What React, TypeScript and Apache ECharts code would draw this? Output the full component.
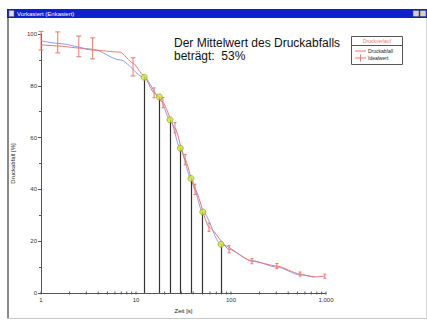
import React, { useEffect, useRef } from "react";
import * as echarts from "echarts";

const IDEAL_T = [1, 1.5, 3.5, 6.8, 12.2, 17.6, 22.8, 29.3, 37.9, 50.4, 78.5, 166, 304, 533, 760];
const IDEAL_V = [97.4, 96.4, 94.1, 90, 83.3, 75.7, 66.9, 55.9, 44.2, 31.3, 18.8, 12.5, 10, 7, 6.2];

const MEAS_T = [1, 1.5, 2.5, 3.5, 6.8, 9.3, 12, 15.5, 19.2, 25.7, 32.9, 41.8, 58.7, 95.5, 166, 304, 533, 730, 972];
const MEAS_V = [95.8, 95.4, 94.6, 93.8, 93, 88.8, 84, 77.3, 73.5, 63.8, 51.5, 40, 25.4, 16.9, 12.3, 10.4, 7.3, 6.2, 6.5];

const ERR_T = [1, 1.5, 2.5, 3.5, 9.3, 15.5, 19.2, 25.7, 32.9, 41.8, 58.7, 95.5, 166, 304, 533, 972];
const ERR_LO = [93.8, 92.7, 91.2, 90.4, 83.8, 75.4, 71.5, 61.8, 49.5, 38, 23.8, 15.5, 11.3, 9.4, 6.5, 5.7];
const ERR_HI = [101, 100.8, 99.2, 98.5, 90.8, 79.2, 75.5, 65.8, 53.5, 42, 27, 18.3, 13.3, 11.4, 8.1, 7.3];

const STEP_T = [12.2, 17.6, 22.8, 29.3, 37.9, 50.4, 78.5];
const STEP_V = [83.3, 75.7, 66.9, 55.9, 44.2, 31.3, 18.8];

const MINOR_X = [2, 3, 4, 5, 6, 7, 8, 9, 20, 30, 40, 50, 60, 70, 80, 90, 200, 300, 400, 500, 600, 700, 800, 900];
const MAJOR_X = [1, 10, 100, 1000];

const TITLE_TEXT = "Der Mittelwert des Druckabfalls\nbeträgt:  53%";
const LEGEND_TITLE = "Druckverlauf";
const LEGEND_ITEMS = ["Druckabfall", "Idealwert"];
const WINDOW_TITLE = "Vorkasiert (Enkasiert)";

const RED = "#e8786e";
const BLUE = "#8e9ef0";
const FONT = "Liberation Sans";

export default function App() {
  const ref = useRef<HTMLDivElement>(null);
  useEffect(() => {
    if (!ref.current) return;
    const chart = echarts.init(ref.current, null, { renderer: "svg" });
    const errData = ERR_T.map((t, i) => [t, ERR_LO[i], ERR_HI[i]]);
    const option: any = {
      animation: false,
      backgroundColor: "#ffffff",
      textStyle: { fontFamily: FONT },
      grid: { left: 41, top: 34, right: 101, bottom: 27, containLabel: false },
      xAxis: {
        type: "log",
        min: 1,
        max: 1000,
        logBase: 10,
        name: "Zeit [s]",
        nameLocation: "middle",
        nameGap: 13,
        nameTextStyle: { fontSize: 6, color: "#222", fontFamily: FONT },
        axisLine: { lineStyle: { color: "#555", width: 1 } },
        axisTick: { show: false },
        axisLabel: { fontSize: 6, color: "#333", margin: 4, fontFamily: FONT },
        splitLine: { show: false },
        minorTick: { show: false },
      },
      yAxis: {
        type: "value",
        min: 0,
        max: 100,
        interval: 20,
        name: "Druckabfall [%]",
        nameLocation: "middle",
        nameGap: 20,
        nameTextStyle: { fontSize: 6, color: "#222", fontFamily: FONT },
        axisLine: { show: true, lineStyle: { color: "#555", width: 1 } },
        axisTick: { show: true, length: 3, lineStyle: { color: "#555" } },
        minorTick: { show: true, splitNumber: 2, length: 2, lineStyle: { color: "#555" } },
        axisLabel: { fontSize: 6, color: "#333", margin: 4, fontFamily: FONT },
        splitLine: { show: false },
      },
      series: [
        {
          type: "custom",
          name: "ticks",
          silent: true,
          data: MINOR_X.map((t) => [t, 0]).concat(MAJOR_X.map((t) => [t, 0, 1])),
          encode: { x: 0, y: 1 },
          renderItem: (params: any, api: any) => {
            const p = api.coord([api.value(0), 0]);
            const big = api.value(2) === 1;
            const h = big ? 3 : 1.5;
            return {
              type: "line",
              shape: { x1: p[0], y1: p[1] - h, x2: p[0], y2: p[1] + h },
              style: { stroke: "#555", lineWidth: 1 },
            };
          },
          z: 1,
        },
        {
          type: "line",
          name: "Idealwert",
          data: IDEAL_T.map((t, i) => [t, IDEAL_V[i]]),
          smooth: 0.3,
          smoothMonotone: "x",
          showSymbol: false,
          lineStyle: { color: BLUE, width: 1 },
          z: 2,
        },
        {
          type: "line",
          name: "Druckabfall",
          data: MEAS_T.map((t, i) => [t, MEAS_V[i]]),
          smooth: 0.2,
          smoothMonotone: "x",
          showSymbol: false,
          lineStyle: { color: RED, width: 1 },
          z: 3,
        },
        {
          type: "custom",
          name: "err",
          data: errData,
          encode: { x: 0, y: [1, 2] },
          clip: false,
          renderItem: (params: any, api: any) => {
            const t = api.value(0);
            const lo = api.coord([t, api.value(1)]);
            const hi = api.coord([t, api.value(2)]);
            const big = hi[1] - lo[1] < -12;
            const w = big ? 2.5 : 1.5;
            return {
              type: "group",
              children: [
                { type: "line", shape: { x1: lo[0], y1: lo[1], x2: hi[0], y2: hi[1] }, style: { stroke: RED, lineWidth: 1 } },
                { type: "line", shape: { x1: lo[0] - w, y1: lo[1], x2: lo[0] + w, y2: lo[1] }, style: { stroke: RED, lineWidth: 1 } },
                { type: "line", shape: { x1: hi[0] - w, y1: hi[1], x2: hi[0] + w, y2: hi[1] }, style: { stroke: RED, lineWidth: 1 } },
              ],
            };
          },
          z: 4,
        },
        {
          type: "scatter",
          name: "steps",
          data: STEP_T.map((t, i) => [t, STEP_V[i]]),
          symbol: "circle",
          symbolSize: 6,
          itemStyle: { color: "#d4e83c", borderColor: "#7a9a20", borderWidth: 0.8 },
          markLine: {
            silent: true,
            symbol: "none",
            label: { show: false },
            lineStyle: { color: "#333", width: 1.2, type: "solid" },
            data: STEP_T.map((t, i) => [
              { coord: [t, 0] },
              { coord: [t, STEP_V[i]] },
            ]),
          },
          z: 5,
        },
      ],
      graphic: [
        { type: "rect", shape: { x: 7, y: 9, width: 420, height: 9 }, style: { fill: "#1020d0" }, z: 100 },
        { type: "rect", shape: { x: 9, y: 10.5, width: 5, height: 6 }, style: { fill: "#e0e0e0", stroke: "#606060", lineWidth: 0.5 }, z: 101 },
        { type: "text", x: 17, y: 13.5, style: { text: WINDOW_TITLE, fill: "#ffffff", fontSize: 6, fontFamily: FONT, verticalAlign: "middle" }, z: 101 },
        { type: "rect", shape: { x: 413, y: 10.5, width: 6, height: 6 }, style: { fill: "#d0d0d0", stroke: "#404040", lineWidth: 0.5 }, z: 101 },
        { type: "rect", shape: { x: 420, y: 10.5, width: 6, height: 6 }, style: { fill: "#d0d0d0", stroke: "#404040", lineWidth: 0.5 }, z: 101 },
        { type: "rect", shape: { x: 7, y: 18, width: 2, height: 301 }, style: { fill: "#8a8a8a" }, z: 100 },
        { type: "line", shape: { x1: 7, y1: 318.5, x2: 427, y2: 318.5 }, style: { stroke: "#c8c8c8", lineWidth: 1 }, z: 100 },
        { type: "line", shape: { x1: 426.5, y1: 18, x2: 426.5, y2: 319 }, style: { stroke: "#d8d8d8", lineWidth: 1 }, z: 100 },
        { type: "text", x: 174, y: 36, style: { text: TITLE_TEXT, fill: "#111", fontSize: 12, lineHeight: 13, fontFamily: FONT }, z: 100 },
        { type: "rect", shape: { x: 351.5, y: 36.5, width: 51, height: 28 }, style: { fill: "#ffffff", stroke: "#555", lineWidth: 1 }, z: 100 },
        { type: "text", x: 377, y: 40.5, style: { text: LEGEND_TITLE, fill: RED, fontSize: 5, fontFamily: FONT, align: "center", verticalAlign: "middle" }, z: 101 },
        { type: "line", shape: { x1: 351.5, y1: 45.5, x2: 402.5, y2: 45.5 }, style: { stroke: "#555", lineWidth: 1 }, z: 101 },
        { type: "line", shape: { x1: 355, y1: 51, x2: 366, y2: 51 }, style: { stroke: RED, lineWidth: 1 }, z: 101 },
        { type: "text", x: 368, y: 51, style: { text: LEGEND_ITEMS[0], fill: "#222", fontSize: 5, fontFamily: FONT, verticalAlign: "middle" }, z: 101 },
        { type: "line", shape: { x1: 355, y1: 58, x2: 366, y2: 58 }, style: { stroke: RED, lineWidth: 1 }, z: 101 },
        { type: "line", shape: { x1: 360.5, y1: 54.5, x2: 360.5, y2: 61.5 }, style: { stroke: RED, lineWidth: 1 }, z: 101 },
        { type: "text", x: 368, y: 58, style: { text: LEGEND_ITEMS[1], fill: "#222", fontSize: 5, fontFamily: FONT, verticalAlign: "middle" }, z: 101 },
      ],
    };
    chart.setOption(option);
    return () => chart.dispose();
  }, []);
  return (
    <div
      ref={ref}
      style={{ position: "fixed", left: 0, top: 0, width: 427, height: 320, background: "#fff" }}
    />
  );
}
